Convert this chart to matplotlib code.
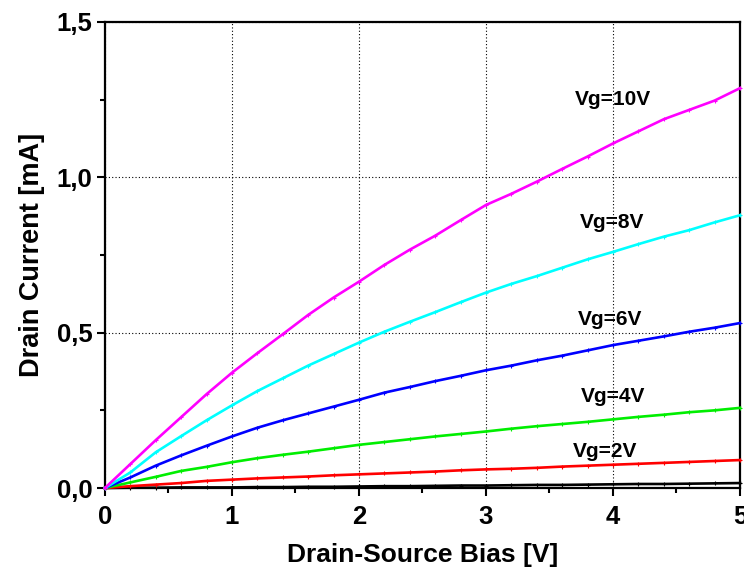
import matplotlib
matplotlib.use("Agg")
import matplotlib.pyplot as plt
from matplotlib.ticker import MultipleLocator, FuncFormatter

plt.rcParams['font.family'] = ['Liberation Sans', 'DejaVu Sans']
plt.rcParams['font.weight'] = 'bold'

vds = [0.0, 0.2, 0.4, 0.6, 0.8, 1.0, 1.2, 1.4, 1.6, 1.8, 2.0, 2.2, 2.4, 2.6, 2.8,
       3.0, 3.2, 3.4, 3.6, 3.8, 4.0, 4.2, 4.4, 4.6, 4.8, 5.0]

id_vg0 = [0, 0.001, 0.001, 0.002, 0.002, 0.002, 0.003, 0.003, 0.004, 0.004, 0.005,
          0.006, 0.006, 0.007, 0.008, 0.008, 0.009, 0.010, 0.010, 0.011, 0.012,
          0.013, 0.013, 0.014, 0.015, 0.016]
id_vg2 = [0, 0.006, 0.011, 0.016, 0.023, 0.027, 0.031, 0.034, 0.037, 0.041, 0.044,
          0.047, 0.050, 0.053, 0.057, 0.060, 0.062, 0.065, 0.069, 0.072, 0.075,
          0.078, 0.081, 0.084, 0.087, 0.090]
id_vg4 = [0, 0.018, 0.036, 0.055, 0.068, 0.083, 0.096, 0.107, 0.117, 0.128, 0.139,
          0.148, 0.157, 0.166, 0.174, 0.182, 0.191, 0.199, 0.206, 0.213, 0.221,
          0.229, 0.236, 0.244, 0.250, 0.258]
id_vg6 = [0, 0.034, 0.072, 0.105, 0.136, 0.166, 0.194, 0.218, 0.240, 0.262, 0.284,
          0.307, 0.325, 0.344, 0.361, 0.379, 0.394, 0.411, 0.426, 0.443, 0.460,
          0.474, 0.488, 0.503, 0.516, 0.531]
id_vg8 = [0, 0.050, 0.115, 0.167, 0.218, 0.266, 0.312, 0.353, 0.394, 0.431, 0.468,
          0.503, 0.535, 0.566, 0.598, 0.629, 0.657, 0.682, 0.709, 0.736, 0.760,
          0.785, 0.809, 0.830, 0.855, 0.878]
id_vg10 = [0, 0.077, 0.154, 0.228, 0.302, 0.371, 0.434, 0.495, 0.557, 0.613, 0.664,
           0.718, 0.767, 0.812, 0.862, 0.911, 0.947, 0.986, 1.027, 1.067, 1.109,
           1.148, 1.187, 1.217, 1.247, 1.287]

series = [id_vg0, id_vg2, id_vg4, id_vg6, id_vg8, id_vg10]
colors = ['#000000', '#ff0000', '#00ee00', '#0000ff', '#00ffff', '#ff00ff']

labels = ['Vg=2V', 'Vg=4V', 'Vg=6V', 'Vg=8V', 'Vg=10V']
label_x = [3.94, 4.0, 3.98, 3.99, 4.0]
label_y = [0.116, 0.293, 0.541, 0.856, 1.252]

fig = plt.figure(figsize=(7.44, 5.77), dpi=100)
ax = fig.add_axes([0.141, 0.1542, 0.8536, 0.8077])

for ys, c in zip(series, colors):
    ax.plot(vds, ys, color=c, lw=1.9, marker='+', ms=3.5, mew=0.8, clip_on=False, zorder=3)

for t, x, y in zip(labels, label_x, label_y):
    ax.text(x, y, t, ha='center', va='center', fontsize=15, fontweight='bold')

ax.set_xlim(0, 5)
ax.set_ylim(0, 1.5)
ax.xaxis.set_major_locator(MultipleLocator(1))
ax.xaxis.set_minor_locator(MultipleLocator(0.5))
ax.yaxis.set_major_locator(MultipleLocator(0.5))
ax.yaxis.set_minor_locator(MultipleLocator(0.25))
ax.yaxis.set_major_formatter(FuncFormatter(lambda v, p: f"{v:.1f}".replace('.', ',')))
ax.xaxis.set_major_formatter(FuncFormatter(lambda v, p: f"{v:.0f}"))

ax.tick_params(which='major', direction='out', length=6, width=1.5, labelsize=18.5)
ax.tick_params(axis='x', which='major', pad=6)
ax.tick_params(axis='y', which='major', pad=3)
ax.tick_params(which='minor', direction='out', length=3.5, width=1.5)
ax.tick_params(top=False, right=False)
for lab in ax.get_xticklabels() + ax.get_yticklabels():
    lab.set_fontweight('bold')

ax.grid(True, which='major', color='black', linestyle=(0, (1, 2)), linewidth=0.8)
for s in ax.spines.values():
    s.set_linewidth(1.6)

ax.set_xlabel('Drain-Source Bias [V]', fontsize=19, fontweight='bold', labelpad=10)
ax.set_ylabel('Drain Current [mA]', fontsize=19.5, fontweight='bold', labelpad=8)

fig.savefig('out.png', dpi=100)
